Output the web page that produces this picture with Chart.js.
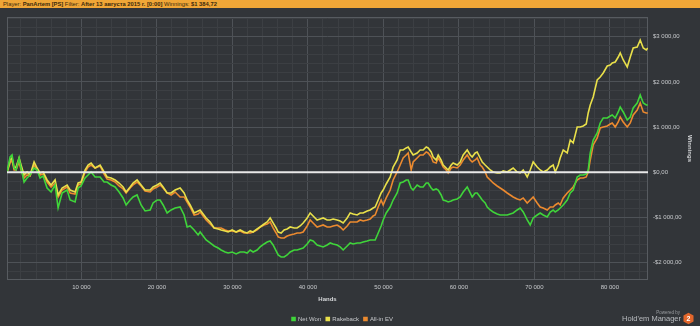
<!DOCTYPE html>
<html><head><meta charset="utf-8">
<script src="https://cdn.jsdelivr.net/npm/chart.js@4.4.1/dist/chart.umd.min.js"></script>
<style>
html,body{margin:0;padding:0;background:#323539;width:700px;height:326px;overflow:hidden}
#wrap{position:absolute;left:0;top:0;width:700px;height:326px}
#hdr{position:absolute;left:0;top:0;width:697px;height:8px;background:#f0a637;font:5.8px "Liberation Sans",Arial,sans-serif;line-height:8px;color:#3b2a0c;padding-left:3px;white-space:nowrap;overflow:hidden}
#hdr b{font-weight:bold}
</style></head><body>
<div id="wrap"><canvas id="c" width="700" height="326"></canvas></div>
<div id="hdr">Player: <b>PanArtem [PS]</b> Filter: <b>After 13 августа 2015 г. [0:00]</b> Winnings: <b>$1 384,72</b></div>
<script>
const seriesNames = ['Net Won', 'Rakeback', 'All-in EV'];
const hands = [150,560,820,1090,1350,1750,2010,2410,2810,3210,
3740,4130,4530,4930,5460,5990,6520,6920,7450,8110,
8510,9170,9570,9960,10490,10890,11290,11820,12480,13010,
13410,13940,14470,15000,15530,15930,16460,16850,17380,17910,
18440,19110,19500,20030,20430,20830,21360,21890,22420,23080,
23610,24010,24410,24940,25470,25730,26530,27060,27590,28120,
28510,29040,29440,29970,30500,31030,31560,31960,32360,32750,
33280,33680,34210,34610,35010,35400,35800,36070,36460,36860,
37260,37660,38190,38580,38980,39380,39910,40310,40700,41230,
41630,42030,42560,42960,43350,43880,44280,44680,45210,45610,
46000,46530,46930,47330,47860,48260,48650,48920,49320,49710,
49980,50380,50910,51300,51830,52230,52630,53030,53290,53690,
53950,54480,54880,55280,55680,55940,56340,56600,57000,57270,
57660,57930,58330,58590,58990,59250,59780,60180,60580,61110,
61510,61770,62170,62430,62830,63100,63490,63760,64160,64550,
65080,65480,65880,66410,66810,67200,67730,68130,68530,69060,
69460,69850,70380,70780,71180,71710,72110,72500,72770,73170,
73430,73830,74360,74760,75150,75680,76080,76480,76880,77140,
77410,77800,78330,78730,79130,79660,80060,80320,80720,81120,
81380,81780,82310,82710,83100,83630,84030,84430,84830,85030];
const netWon = [0,338,383,95,51,316,95,-215,-126,-60,
95,51,-126,-82,-347,-436,-281,-790,-458,-392,
-613,-657,-347,-303,-126,-60,7,-104,-104,-215,
-215,-281,-325,-436,-568,-723,-613,-546,-502,-723,
-856,-834,-679,-613,-613,-723,-900,-834,-790,-768,
-945,-1210,-1188,-1276,-1387,-1321,-1498,-1564,-1630,-1675,
-1719,-1763,-1785,-1763,-1807,-1763,-1763,-1785,-1719,-1763,
-1719,-1652,-1586,-1542,-1520,-1608,-1741,-1829,-1874,-1874,
-1829,-1763,-1719,-1719,-1697,-1675,-1586,-1498,-1520,-1608,
-1630,-1652,-1608,-1564,-1586,-1608,-1652,-1719,-1630,-1564,
-1586,-1564,-1564,-1542,-1520,-1498,-1498,-1498,-1343,-1188,
-1055,-900,-768,-613,-458,-237,-215,-170,-170,-347,
-392,-281,-325,-325,-237,-237,-347,-392,-369,-392,
-502,-613,-635,-657,-635,-613,-591,-546,-436,-325,
-458,-546,-458,-458,-546,-613,-679,-768,-834,-878,
-922,-945,-945,-945,-922,-900,-834,-790,-878,-1055,
-1166,-1011,-945,-900,-945,-989,-878,-834,-878,-834,
-790,-723,-613,-458,-392,-104,-60,-60,-38,51,
427,714,869,1091,1201,1201,1245,1267,1201,1334,
1444,1334,1157,1223,1422,1533,1710,1533,1489,1489];
const rakeback = [0,272,316,95,117,316,161,-60,7,-60,
228,95,-15,7,-170,-281,-170,-502,-347,-281,
-392,-436,-237,-215,51,161,206,95,161,7,
-104,-126,-170,-237,-325,-436,-325,-237,-170,-281,
-392,-392,-325,-281,-237,-325,-458,-458,-392,-347,
-458,-613,-723,-900,-856,-834,-1011,-1099,-1232,-1254,
-1276,-1298,-1321,-1276,-1321,-1276,-1321,-1343,-1298,-1321,
-1254,-1210,-1144,-1099,-1011,-1121,-1232,-1321,-1343,-1276,
-1254,-1210,-1232,-1232,-1188,-1121,-1011,-900,-967,-1055,
-1033,-1011,-1055,-1055,-1033,-1055,-1077,-1121,-1011,-900,
-922,-945,-900,-900,-856,-834,-790,-768,-613,-458,
-392,-259,-104,117,272,493,493,538,560,449,
383,427,493,493,560,538,449,338,272,383,
272,161,95,51,161,206,161,228,383,493,
383,338,427,449,316,228,161,117,51,7,
-15,-15,29,7,51,95,7,-15,51,-104,
51,228,117,51,7,51,117,161,7,161,
316,493,427,714,648,1002,1002,1024,1068,1312,
1489,1666,2042,2108,2197,2351,2373,2418,2440,2550,
2639,2484,2329,2550,2750,2772,2926,2750,2705,2750];
const allInEV = [0,206,272,51,51,228,51,-126,-60,-82,
161,51,-60,-38,-215,-325,-237,-546,-392,-325,
-458,-480,-281,-259,7,117,161,95,139,-38,
-148,-170,-215,-303,-369,-458,-347,-281,-215,-303,
-414,-436,-369,-325,-281,-347,-458,-502,-436,-546,
-546,-657,-768,-945,-922,-878,-1055,-1144,-1232,-1232,
-1232,-1276,-1298,-1298,-1321,-1298,-1343,-1343,-1343,-1321,
-1276,-1210,-1166,-1144,-1099,-1232,-1343,-1431,-1453,-1453,
-1409,-1387,-1365,-1343,-1343,-1321,-1188,-1055,-1121,-1210,
-1188,-1166,-1210,-1210,-1188,-1166,-1210,-1276,-1188,-1099,
-1099,-1099,-1055,-1077,-1055,-1033,-967,-945,-768,-613,
-723,-568,-392,-170,7,161,316,383,427,51,
228,316,383,383,449,427,338,228,206,316,
206,117,51,-15,95,117,95,161,272,383,
272,228,272,316,161,117,7,-104,-170,-237,
-303,-347,-392,-458,-502,-546,-591,-613,-568,-679,
-613,-546,-679,-768,-790,-834,-768,-768,-723,-679,
-723,-568,-458,-392,-325,-170,-126,-126,-104,7,
272,604,759,980,1002,1024,1068,1091,1002,1113,
1223,1113,1002,1091,1267,1378,1533,1334,1312,1312];
const xRange = [150, 85060];
const yRange = [-2383, 3435];
const xGridStep = 2000, xLabelStep = 10000;
const yGridStep = 200, yLabelStep = 1000;

const colors = ['#3fd43a', '#e9e04a', '#ec8a2f'];
const seriesValues = [netWon, rakeback, allInEV];

function groupThousands(n){ return String(Math.round(Math.abs(n))).replace(/\B(?=(\d{3})+(?!\d))/g, ' '); }
function money(v){ return (v < 0 ? '-' : '') + '$' + groupThousands(v) + ',00'; }

const datasets = seriesNames.map((name, i) => ({
  label: name,
  data: hands.map((h, j) => ({x: h, y: seriesValues[i][j]})),
  borderColor: colors[i],
  backgroundColor: colors[i],
  borderWidth: 1.6,
  pointRadius: 0,
  tension: 0
}));

const frame = {
  id: 'frame',
  afterLayout(chart){
    if (chart.legend) { chart.legend.left -= 11; chart.legend.right -= 11; }
  },
  beforeDatasetsDraw(chart){
    const {ctx, chartArea:a} = chart;
    ctx.save(); ctx.strokeStyle = '#575b60'; ctx.lineWidth = 1;
    ctx.strokeRect(a.left + 0.5, a.top + 0.5, a.right - a.left - 1, a.bottom - a.top - 1);
    ctx.restore();
  },
  afterDatasetsDraw(chart){
    const {ctx, chartArea:a, scales} = chart;
    const y = scales.y.getPixelForValue(0);
    ctx.save(); ctx.strokeStyle = '#e8e8e8'; ctx.lineWidth = 2;
    ctx.beginPath(); ctx.moveTo(a.left, y); ctx.lineTo(a.right, y); ctx.stroke();
    ctx.restore();
  },
  afterDraw(chart){
    const ctx = chart.ctx;
    ctx.save();
    ctx.fillStyle = '#9a9da1'; ctx.textAlign = 'right'; ctx.textBaseline = 'middle';
    ctx.font = '4.5px "Liberation Sans", Arial, sans-serif';
    ctx.fillText('Powered by', 680, 313);
    ctx.fillStyle = '#b9bcc0';
    ctx.font = '7.5px "Liberation Sans", Arial, sans-serif';
    ctx.fillText("Hold'em Manager", 681, 319);
    const cx = 688.5, cy = 318.5, r = 5.8;
    ctx.beginPath();
    for (let k = 0; k < 6; k++) { const ang = Math.PI/6 + k*Math.PI/3; const px = cx + r*Math.cos(ang), py = cy + r*Math.sin(ang); k ? ctx.lineTo(px, py) : ctx.moveTo(px, py); }
    ctx.closePath(); ctx.fillStyle = '#e2662b'; ctx.fill();
    ctx.fillStyle = '#ffffff'; ctx.textAlign = 'center';
    ctx.font = 'bold 7px "Liberation Sans", Arial, sans-serif';
    ctx.fillText('2', cx, cy + 0.5);
    ctx.restore();
  }
};

function stepTicks(min, max, step){ const t = []; for (let v = Math.ceil(min/step)*step; v <= max; v += step) t.push({value: v}); return t; }

new Chart(document.getElementById('c'), {
  type: 'line',
  data: { datasets },
  options: {
    responsive: false, animation: false, devicePixelRatio: 1,
    layout: { padding: { top: 17, left: 7, right: 0, bottom: -6 } },
    plugins: {
      legend: { position: 'bottom', labels: { color: '#c8cacd', boxWidth: 3, boxHeight: 3, padding: 5, font: { size: 6, family: '"Liberation Sans", Arial, sans-serif' } } },
      tooltip: { enabled: false }
    },
    scales: {
      x: {
        type: 'linear', min: xRange[0], max: xRange[1],
        afterBuildTicks(s){ s.ticks = stepTicks(xRange[0], xRange[1], xGridStep); },
        afterFit(s){ s.height = 31; },
        grid: { drawTicks: false, color: c => c.tick && c.tick.value % xLabelStep === 0 ? '#4e5257' : '#3c3f43', lineWidth: 1 },
        border: { display: false },
        ticks: { autoSkip: false, maxRotation: 0, padding: 4, color: '#c8cacd', font: { size: 6, family: '"Liberation Sans", Arial, sans-serif' }, callback: v => v % xLabelStep === 0 ? groupThousands(v) : '' },
        title: { display: true, text: 'Hands', color: '#d6d8da', padding: { top: 0, bottom: 8 }, font: { size: 6, weight: 'bold', family: '"Liberation Sans", Arial, sans-serif' } }
      },
      y: {
        type: 'linear', position: 'right', min: yRange[0], max: yRange[1],
        afterBuildTicks(s){ s.ticks = stepTicks(yRange[0], yRange[1], yGridStep); },
        afterFit(s){ s.width = 52; },
        grid: { drawTicks: false, color: c => c.tick && c.tick.value % yLabelStep === 0 ? '#4e5257' : '#3c3f43', lineWidth: 1 },
        border: { display: false },
        ticks: { autoSkip: false, padding: 5, color: '#c8cacd', font: { size: 6, family: '"Liberation Sans", Arial, sans-serif' }, callback: v => v % yLabelStep === 0 ? money(v) : '' },
        title: { display: true, text: 'Winnings', color: '#d6d8da', padding: { top: 7, bottom: 0 }, font: { size: 6, weight: 'bold', family: '"Liberation Sans", Arial, sans-serif' } }
      }
    }
  },
  plugins: [frame]
});
</script>
</body></html>
